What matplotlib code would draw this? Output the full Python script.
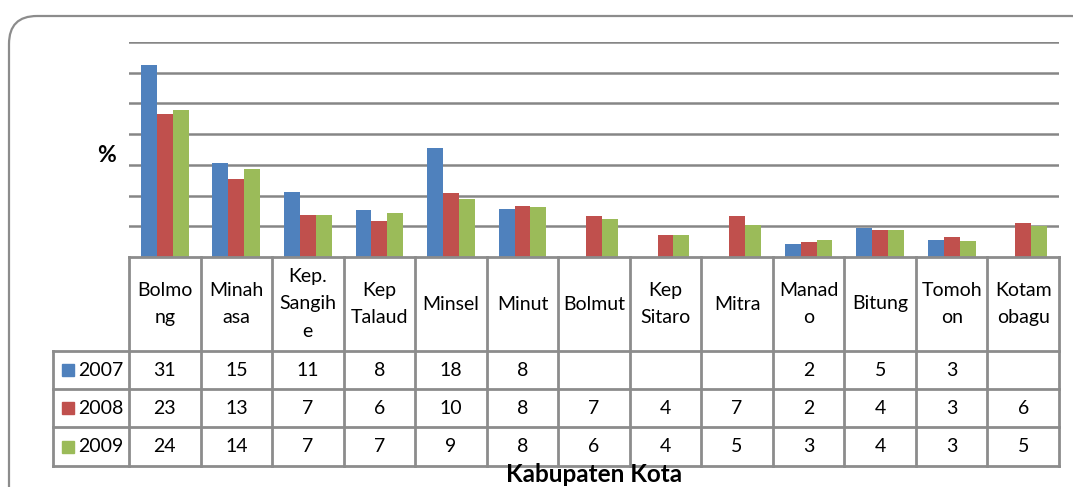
import numpy as np
import matplotlib
matplotlib.use("Agg")
import matplotlib.pyplot as plt
from matplotlib.patches import FancyBboxPatch, Rectangle

# data (bar heights, table shows rounded values)
categories = ["Bolmo\nng", "Minah\nasa", "Kep.\nSangih\ne", "Kep\nTalaud", "Minsel", "Minut",
              "Bolmut", "Kep\nSitaro", "Mitra", "Manad\no", "Bitung", "Tomoh\non", "Kotam\nobagu"]
years = ["2007", "2008", "2009"]
v2007 = [31.2, 15.3, 10.6, 7.7, 17.8, 7.8, np.nan, np.nan, np.nan, 2.1, 4.7, 2.8, np.nan]
v2008 = [23.3, 12.7, 6.8, 5.9, 10.5, 8.3, 6.6, 3.6, 6.7, 2.4, 4.4, 3.3, 5.5]
v2009 = [24.0, 14.3, 6.8, 7.2, 9.4, 8.1, 6.2, 3.6, 5.2, 2.8, 4.4, 2.6, 5.0]
colors = ["#4F81BD", "#C0504D", "#9BBB59"]

W, H = 1073, 487
fig = plt.figure(figsize=(W / 100, H / 100), dpi=100)
plt.rcParams['font.family'] = ['Lato', 'DejaVu Sans']

def px_rect(x0, y0, x1, y1):
    # pixel box (top-left origin) -> figure fraction rect
    return [x0 / W, 1 - y1 / H, (x1 - x0) / W, (y1 - y0) / H]

# rounded outer frame, drawn in pixel units on a full-figure axes
bg = fig.add_axes([0, 0, 1, 1])
bg.set_xlim(0, W)
bg.set_ylim(H, 0)
bg.axis("off")
bg.add_patch(FancyBboxPatch((9, 16), 1090, 500,
                            boxstyle="round,pad=0,rounding_size=28",
                            fill=False, edgecolor="#8c8c8c", linewidth=1.6))

grid_col = "#868686"
line_col = "#8c8c8c"

# bar chart
ax = fig.add_axes(px_rect(129, 42, 1059, 257))
n = len(categories)
x = np.arange(n) + 0.5
bw = 1 / 4.5
for i, vals in enumerate([v2007, v2008, v2009]):
    ax.bar(x + (i - 1) * bw, vals, width=bw, color=colors[i], zorder=3)
ax.set_xlim(0, n)
ax.set_ylim(0, 35)
ax.set_yticks(np.arange(5, 36, 5))
ax.yaxis.grid(True, color=grid_col, linewidth=1.8)
ax.set_axisbelow(True)
ax.tick_params(left=False, bottom=False, labelleft=False, labelbottom=False)
for s in ax.spines.values():
    s.set_visible(False)
ax.patch.set_alpha(0)

fig.text(106 / W, 1 - 155 / H, "%", fontsize=16.5, fontweight="bold",
         ha="center", va="center")

# data table under the bars
tab = fig.add_axes(px_rect(53, 257, 1059, 466))
leg_w = (129 - 53) / (930 / n)
tab.set_xlim(-leg_w, n)
row_edges = [0, 94, 132, 170, 209]
tab.set_ylim(209, 0)
tab.axis("off")

lw = 2.0
# header row
tab.plot([0, n], [0, 0], color=line_col, lw=lw, clip_on=False)
for j in range(n + 1):
    tab.plot([j, j], [0, 209], color=line_col, lw=lw, clip_on=False)
tab.plot([-leg_w, -leg_w], [94, 209], color=line_col, lw=lw, clip_on=False)
for y in row_edges[1:]:
    tab.plot([-leg_w, n], [y, y], color=line_col, lw=lw, clip_on=False)

fs = 14
for j, c in enumerate(categories):
    tab.text(j + 0.5, 47, c, ha="center", va="center", fontsize=fs,
             linespacing=1.75)

for i, vals in enumerate([v2007, v2008, v2009]):
    yc = (row_edges[i + 1] + row_edges[i + 2]) / 2
    tab.add_patch(Rectangle((-leg_w + 9 / 71.54, yc - 6), 12 / 71.54, 12,
                            color=colors[i], clip_on=False))
    tab.text(-leg_w + 25 / 71.54, yc, years[i], ha="left", va="center", fontsize=fs)
    for j, v in enumerate(vals):
        if not np.isnan(v):
            tab.text(j + 0.5, yc, f"{v:.0f}", ha="center", va="center", fontsize=fs)

fig.text(594 / W, 1 - 474 / H, "Kabupaten Kota", fontsize=17.5, fontweight="bold",
         ha="center", va="center")

fig.savefig("out.png", dpi=100)
